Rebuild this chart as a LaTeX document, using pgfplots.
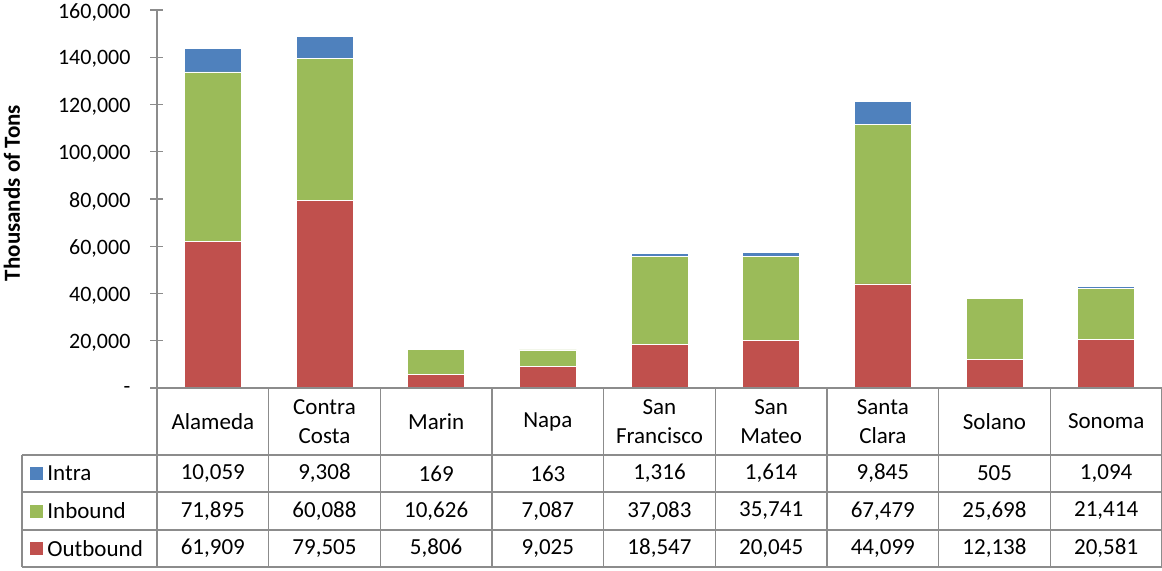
\documentclass[border=0pt]{standalone}
\usepackage{fontspec}
\setmainfont{Carlito}
\usepackage{pgfplots}
\pgfplotsset{compat=1.18}
\definecolor{cIntra}{HTML}{4F81BD}
\definecolor{cIn}{HTML}{9BBB59}
\definecolor{cOut}{HTML}{C0504D}
\definecolor{gridc}{HTML}{8C8C8C}
\pgfplotstableread{
x Outbound Inbound Intra
0 61909 71895 10059
1 79505 60088 9308
2 5806 10626 169
3 9025 7087 163
4 18547 37083 1316
5 20045 35741 1614
6 44099 67479 9845
7 12138 25698 505
8 20581 21414 1094
}\data
\begin{document}
\fontsize{11.5}{14.5}\selectfont
\begin{tikzpicture}[x=0.5pt,y=0.5pt]
\begin{axis}[
  at={(0,0)}, anchor=south west,
  scale only axis, width=502.5pt, height=189pt,
  xmin=-0.5, xmax=8.5, ymin=0, ymax=160000,
  axis x line=none, axis y line=left,
  axis line style={-, gridc, line width=0.6pt},
  scaled y ticks=false,
  ytick={0,20000,...,160000},
  yticklabels={-,{20,000},{40,000},{60,000},{80,000},{100,000},{120,000},{140,000},{160,000}},
  yticklabel style={font=\fontsize{11}{14}\selectfont, anchor=east, xshift=-6pt, yshift=-1pt},
  tick align=center, major tick length=6.5pt,
  tick style={gridc, line width=0.6pt},
  ybar stacked, bar width=0.51,
  clip=false,
]
\addplot[fill=cOut, draw=white, line width=0.3pt] table[x=x,y=Outbound]{\data};
\addplot[fill=cIn, draw=white, line width=0.3pt] table[x=x,y=Inbound]{\data};
\addplot[fill=cIntra, draw=white, line width=0.3pt] table[x=x,y=Intra]{\data};
\end{axis}
% data table grid
\begin{scope}[gridc, line width=0.6pt]
\draw (0,0) -- (1005,0);
\foreach \yy in {-67,-104,-142,-179} \draw (-135,\yy) -- (1005,\yy);
\draw (-135,-67) -- (-135,-179);
\foreach \k in {0,...,9} \draw ({\k*111.667},0) -- ({\k*111.667},-179);
\end{scope}
% category headers
\foreach \name [count=\i from 0] in {Alameda,{Contra\\Costa},Marin,Napa,{San\\Francisco},{San\\Mateo},{Santa\\Clara},Solano,Sonoma}
  \node[align=center, inner sep=0pt] at ({55.833+\i*111.667},-33.5) {\name};
% legend column
\fill[cIntra] (-127,-92) rectangle (-114,-79);
\fill[cIn] (-127,-130) rectangle (-114,-117);
\fill[cOut] (-127,-167) rectangle (-114,-154);
\node[anchor=west, inner sep=0pt] at (-110,-85.5) {Intra};
\node[anchor=west, inner sep=0pt] at (-110,-123) {Inbound};
\node[anchor=west, inner sep=0pt] at (-110,-160.5) {Outbound};
% values
\foreach \v [count=\i from 0] in {{10,059},{9,308},169,163,{1,316},{1,614},{9,845},505,{1,094}}
  \node[inner sep=0pt] at ({55.833+\i*111.667},-85.5) {\v};
\foreach \v [count=\i from 0] in {{71,895},{60,088},{10,626},{7,087},{37,083},{35,741},{67,479},{25,698},{21,414}}
  \node[inner sep=0pt] at ({55.833+\i*111.667},-123) {\v};
\foreach \v [count=\i from 0] in {{61,909},{79,505},{5,806},{9,025},{18,547},{20,045},{44,099},{12,138},{20,581}}
  \node[inner sep=0pt] at ({55.833+\i*111.667},-160.5) {\v};
% y label
\node[rotate=90, font=\bfseries, inner sep=0pt] at (-145,195) {Thousands of Tons};
\pgfresetboundingbox
\path[use as bounding box] (-157,-183) rectangle (1005,388);
\end{tikzpicture}
\end{document}
